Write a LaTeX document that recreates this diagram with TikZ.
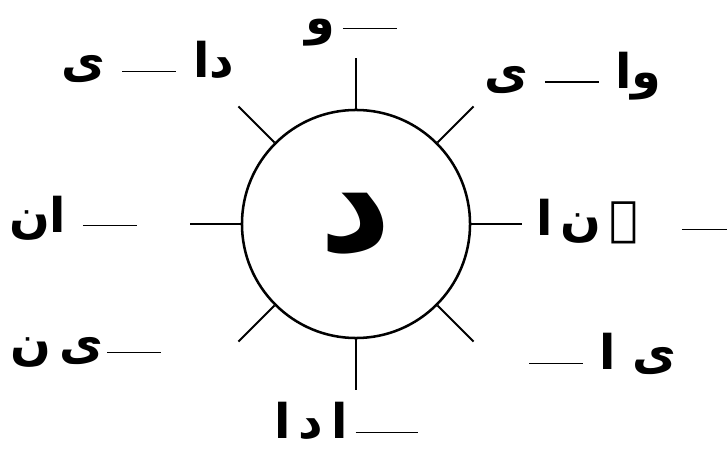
\documentclass[tikz,border=0pt]{standalone}
\usepackage{fontspec}
\newfontfamily\urdu[Script=Arabic]{DejaVu Sans}
\TeXXeTstate=1
\newcommand{\khali}[1][1.35cm]{\rule[0.12em]{#1}{0.9pt}}
\usetikzlibrary{positioning}

\begin{document}
\begin{tikzpicture}[x=0.025cm, y=-0.025cm,
            hub/.style={circle, draw=black, line width=1.8pt, minimum size=5.7cm, inner sep=0pt, font=\urdu\bfseries\fontsize{100}{110}\selectfont},
            rim/.style={circle, minimum size=8.3cm, inner sep=0pt},
            spoke/.style={line width=1.4pt},
            word/.style={inner sep=0pt, font=\urdu\bfseries\fontsize{34}{40}\selectfont}]
            \useasboundingbox (0,0) rectangle (727,451);

            % Centre letter and spokes
            \node (hub) [hub] at (356,224) {\raisebox{-0.15cm}{د}};
            \node (rim) [rim] at (356,224) {};
            \foreach \a in {0,45,...,315}
                \draw [spoke] (hub.\a) -- (rim.\a);

            % Words round the wheel
            \node (do) [word] at (351,33) {\beginR\khali\hspace{0.2cm}و\endR};
            \node (dadi) [word] at (148,62) {\beginR دا \khali{} ی\endR};
            \node (wadi) [word] at (573,76) {\beginR وا \khali{} ی\endR};
            \node (daan) [word] at (73,218) {\beginR\khali{} ان\endR};
            \node (dena) [word] at (636,222) {\beginR\khali\hspace{1.1cm}ے\,ن\,ا\endR};
            \node (deen) [word] at (86,352) {\beginR\khali\hspace{0.1cm}ی\hspace{0.2cm}ن\endR};
            \node (yaad) [word] at (603,354) {\beginR ی ا \khali\endR};
            \node (dada) [word] at (346,421) {\beginR\khali[1.55cm]\,ا\,د\,ا\endR};
        \end{tikzpicture}
\end{document}
